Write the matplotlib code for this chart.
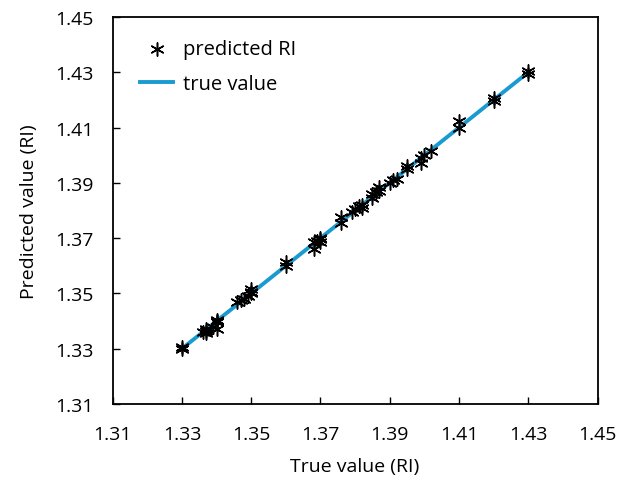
import matplotlib
matplotlib.use('Agg')
from matplotlib import pyplot as plt

plt.rcParams['font.family'] = ['Open Sans', 'DejaVu Sans']

true_ri = [1.330, 1.330,
           1.336, 1.337, 1.337, 1.337,
           1.339, 1.340, 1.340, 1.340, 1.340,
           1.346, 1.347, 1.348, 1.349, 1.350, 1.350, 1.350,
           1.360, 1.360,
           1.368, 1.368, 1.369, 1.370, 1.370, 1.370,
           1.376, 1.376,
           1.379, 1.380, 1.381, 1.382, 1.382,
           1.385, 1.385, 1.386, 1.387, 1.387,
           1.390, 1.391, 1.392,
           1.395, 1.395,
           1.399, 1.399, 1.400, 1.402,
           1.410, 1.410,
           1.420, 1.420,
           1.430, 1.430]
pred_ri = [1.3300, 1.3305,
           1.3360, 1.3365, 1.3370, 1.3358,
           1.3380, 1.3400, 1.3405, 1.3395, 1.3370,
           1.3470, 1.3475, 1.3480, 1.3490, 1.3500, 1.3515, 1.3505,
           1.3600, 1.3615,
           1.3660, 1.3685, 1.3690, 1.3700, 1.3685, 1.3695,
           1.3755, 1.3775,
           1.3795, 1.3805, 1.3815, 1.3810, 1.3820,
           1.3845, 1.3860, 1.3865, 1.3870, 1.3885,
           1.3900, 1.3910, 1.3915,
           1.3950, 1.3960,
           1.3970, 1.3990, 1.4000, 1.4015,
           1.4100, 1.4125,
           1.4195, 1.4205,
           1.4295, 1.4305]
line_x = [1.33, 1.43]
line_y = [1.33, 1.43]

ticks = [1.31, 1.33, 1.35, 1.37, 1.39, 1.41, 1.43, 1.45]

fig = plt.figure(figsize=(6.33, 4.85), dpi=100)
ax = fig.add_axes([0.178, 0.165, 0.766, 0.798])

ax.plot(line_x, line_y, color='#1a9bd0', lw=2.8, label='true value', zorder=2)
ax.scatter(true_ri, pred_ri, marker=(6, 2, 0), s=90, color='black',
           linewidths=1.1, label='predicted RI', zorder=3)

ax.set_xlim(1.31, 1.45)
ax.set_ylim(1.31, 1.45)
ax.set_xticks(ticks)
ax.set_yticks(ticks)
ax.set_xticklabels(['%.2f' % t for t in ticks])
ax.set_yticklabels(['%.2f' % t for t in ticks])
ax.tick_params(direction='in', length=5, width=1, labelsize=14, colors='black')
ax.tick_params(axis='y', pad=14)
ax.tick_params(axis='x', pad=15)
for s in ax.spines.values():
    s.set_linewidth(1.3)
    s.set_color('black')

ax.set_xlabel('True value (RI)', fontsize=14, labelpad=10)
ax.set_ylabel('Predicted value (RI)', fontsize=14, labelpad=12)

handles, labels = ax.get_legend_handles_labels()
ax.legend(handles[::-1], labels[::-1], loc='upper left', frameon=False,
          fontsize=14.5, bbox_to_anchor=(0.02, 0.99), handlelength=1.6,
          handletextpad=0.5, scatterpoints=1, labelspacing=0.75)

fig.savefig('out.png', dpi=100)
